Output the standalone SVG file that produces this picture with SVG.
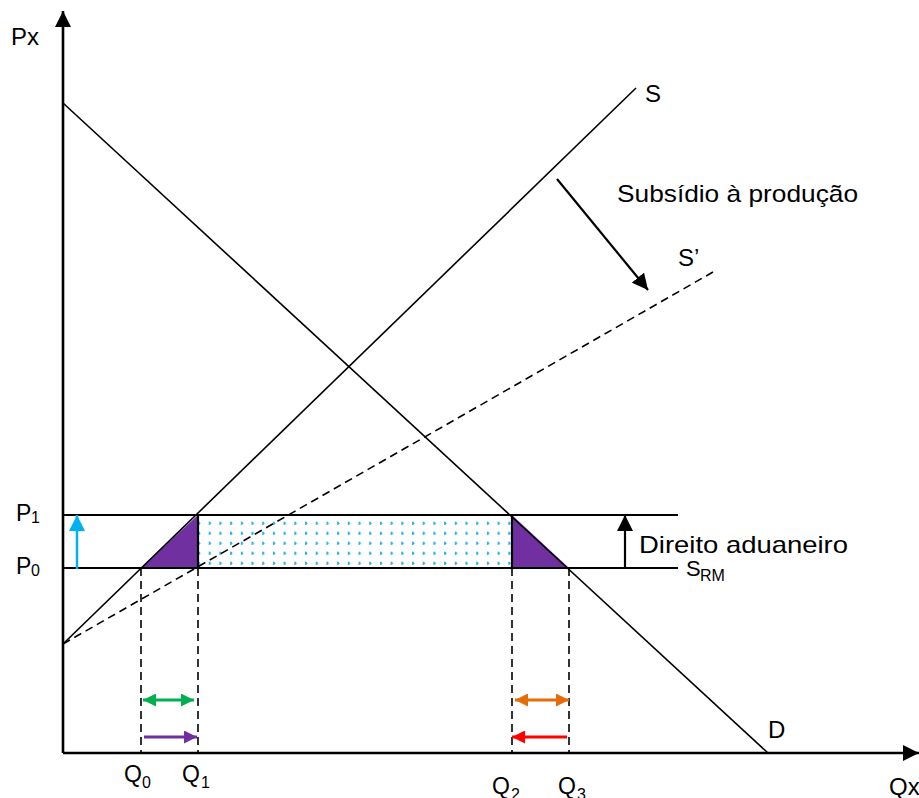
<svg xmlns="http://www.w3.org/2000/svg" width="919" height="798" viewBox="0 0 919 798">
<style>
text{font-family:"Liberation Sans","Open Sans",sans-serif;fill:#000}
.lbl{font-size:24px}
.sub{font-size:16px}
.ln{stroke:#000;stroke-width:1.6;fill:none}
.dash{stroke:#000;stroke-width:1.6;fill:none;stroke-dasharray:8 5}
.bar{stroke:#000;stroke-width:2.2;fill:none}
.tri{fill:#7030a0;stroke:none}
</style>
<defs>
<pattern id="dots" x="198" y="515" width="10.7" height="10" patternUnits="userSpaceOnUse">
<circle cx="0.6" cy="8.3" r="1.7" fill="#2fb4ea"/>
</pattern>
<marker id="ah-black" viewBox="0 0 10 10" refX="10" refY="5" markerWidth="16" markerHeight="16" markerUnits="userSpaceOnUse" orient="auto-start-reverse"><path d="M0,0 L10,5 L0,10 z" fill="#000"/></marker>
<marker id="ah-blue" viewBox="0 0 10 10" refX="10" refY="5" markerWidth="16" markerHeight="16" markerUnits="userSpaceOnUse" orient="auto"><path d="M0,0 L10,5 L0,10 z" fill="#00b0f0"/></marker>
<marker id="ah-green" viewBox="0 0 10 10" refX="10" refY="5" markerWidth="15" markerHeight="13" markerUnits="userSpaceOnUse" orient="auto-start-reverse"><path d="M0,0 L10,5 L0,10 z" fill="#00b050"/></marker>
<marker id="ah-orange" viewBox="0 0 10 10" refX="10" refY="5" markerWidth="15" markerHeight="13" markerUnits="userSpaceOnUse" orient="auto-start-reverse"><path d="M0,0 L10,5 L0,10 z" fill="#e46c0a"/></marker>
<marker id="ah-purple" viewBox="0 0 10 10" refX="10" refY="5" markerWidth="15" markerHeight="13" markerUnits="userSpaceOnUse" orient="auto"><path d="M0,0 L10,5 L0,10 z" fill="#7030a0"/></marker>
<marker id="ah-red" viewBox="0 0 10 10" refX="10" refY="5" markerWidth="15" markerHeight="13" markerUnits="userSpaceOnUse" orient="auto"><path d="M0,0 L10,5 L0,10 z" fill="#ff0000"/></marker>
</defs>

<g id="areas">
<rect id="tariff-revenue" x="198" y="515" width="314" height="53" fill="url(#dots)"/>
<polygon id="loss-left" class="tri" points="141,568 198,515 198,568"/>
<polygon id="loss-right" class="tri" points="512,515 512,568 569,568"/>
</g>

<g id="connectors">
<line id="demand-D" class="ln" x1="63" y1="103" x2="768" y2="753"/>
<line id="supply-S" class="ln" x1="63" y1="644" x2="636" y2="88"/>
<line id="supply-S-prime" class="dash" x1="63" y1="644" x2="713" y2="272"/>
<line id="price-P1" class="bar" x1="63" y1="515" x2="678" y2="515"/>
<line id="price-P0" class="bar" x1="63" y1="568" x2="678" y2="568"/>
<line class="bar" x1="198" y1="515" x2="198" y2="568"/>
<line class="bar" x1="512" y1="515" x2="512" y2="568"/>
<line class="dash" x1="141" y1="568" x2="141" y2="753"/>
<line class="dash" x1="198" y1="568" x2="198" y2="753"/>
<line class="dash" x1="512" y1="568" x2="512" y2="753"/>
<line class="dash" x1="569" y1="568" x2="569" y2="753"/>
<line id="subsidy-arrow" x1="557" y1="179" x2="648" y2="290" stroke="#000" stroke-width="2.2" marker-end="url(#ah-black)"/>
<line id="tariff-arrow" x1="625" y1="568" x2="625" y2="515" stroke="#000" stroke-width="2.2" marker-end="url(#ah-black)"/>
<line id="price-rise-arrow" x1="77" y1="569" x2="77" y2="515" stroke="#00b0f0" stroke-width="2.5" marker-end="url(#ah-blue)"/>
<line id="green-arrow" x1="143" y1="700" x2="194" y2="700" stroke="#00b050" stroke-width="3" marker-start="url(#ah-green)" marker-end="url(#ah-green)"/>
<line id="purple-arrow" x1="144" y1="737" x2="197" y2="737" stroke="#7030a0" stroke-width="3" marker-end="url(#ah-purple)"/>
<line id="orange-arrow" x1="515" y1="700" x2="569" y2="700" stroke="#e46c0a" stroke-width="3" marker-start="url(#ah-orange)" marker-end="url(#ah-orange)"/>
<line id="red-arrow" x1="567" y1="737" x2="512" y2="737" stroke="#ff0000" stroke-width="3" marker-end="url(#ah-red)"/>
</g>

<g id="axes">
<line id="axis-y" x1="63" y1="753" x2="63" y2="11" stroke="#000" stroke-width="2.6" marker-end="url(#ah-black)"/>
<line id="axis-x" x1="63" y1="753" x2="919" y2="753" stroke="#000" stroke-width="2.6" marker-end="url(#ah-black)"/>
</g>

<g id="labels">
<text class="lbl" x="11" y="45">Px</text>
<text class="lbl" x="889" y="795">Qx</text>
<text class="lbl" x="645" y="102">S</text>
<text class="lbl" x="678" y="266">S’</text>
<text class="lbl" x="617" y="202" textLength="241" lengthAdjust="spacingAndGlyphs">Subsídio à produção</text>
<text class="lbl" x="639" y="553" textLength="209" lengthAdjust="spacingAndGlyphs">Direito aduaneiro</text>
<text class="lbl" x="768" y="738" font-size="22">D</text>
<text x="686" y="576" font-size="22">S</text><text class="sub" x="700" y="581">RM</text>
<text x="16" y="521" font-size="23">P</text><text class="sub" x="31" y="523">1</text>
<text x="16" y="574" font-size="23">P</text><text class="sub" x="31" y="576">0</text>
<text x="124" y="782" font-size="23">Q</text><text class="sub" x="142" y="788">0</text>
<text x="182" y="782" font-size="23">Q</text><text class="sub" x="201" y="788">1</text>
<text x="492" y="794" font-size="23">Q</text><text class="sub" x="511" y="800">2</text>
<text x="558" y="794" font-size="23">Q</text><text class="sub" x="577" y="800">3</text>
</g>
</svg>
